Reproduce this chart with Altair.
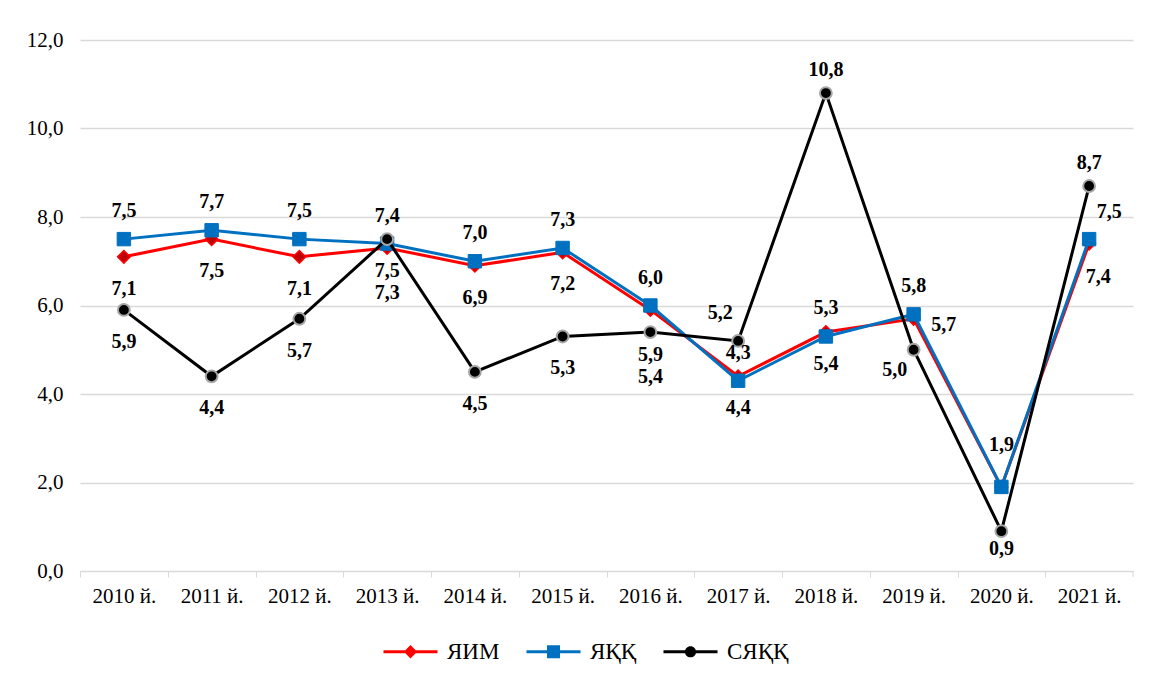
import altair as alt
import pandas as pd

FONT = "'Liberation Serif', 'Times New Roman', Times, serif"

years = ["2010 й.", "2011 й.", "2012 й.", "2013 й.", "2014 й.", "2015 й.",
         "2016 й.", "2017 й.", "2018 й.", "2019 й.", "2020 й.", "2021 й."]
series_names = ["ЯИМ", "ЯҚҚ", "СЯҚҚ"]

yim = [7.1, 7.5, 7.1, 7.3, 6.9, 7.2, 5.9, 4.4, 5.4, 5.7, 1.9, 7.4]
yqq = [7.5, 7.7, 7.5, 7.4, 7.0, 7.3, 6.0, 4.3, 5.3, 5.8, 1.9, 7.5]
syqq = [5.9, 4.4, 5.7, 7.5, 4.5, 5.3, 5.4, 5.2, 10.8, 5.0, 0.9, 8.7]

# label placement category for each point
yim_pos = ["below", "below", "below", "below2", "below", "below", "below2",
           "below", "below", "right", "none", "belowright"]
yqq_pos = ["above", "above", "above", "above", "above", "above", "above",
           "above", "above", "above", "above2", "aboveright"]
syqq_pos = ["below", "below", "below", "below", "below", "below", "below2",
            "aboveleft", "abovec", "leftbelow", "belowclose", "abovec"]

offsets = {
    "above": (0, -28), "abovec": (0, -23), "below": (0, 32), "below2": (0, 45),
    "above2": (0, -42), "right": (30, 6), "leftbelow": (-19, 20),
    "aboveleft": (-18, -28), "aboveright": (20, -27), "belowright": (9, 33),
    "belowclose": (0, 18),
}

rows = []
for name, vals, poss in zip(series_names, [yim, yqq, syqq], [yim_pos, yqq_pos, syqq_pos]):
    for yr, v, p in zip(years, vals, poss):
        rows.append({"year": yr, "series": name, "value": v,
                     "label": f"{v:.1f}".replace(".", ","), "pos": p})
df = pd.DataFrame(rows)

W, H = 1053, 531
step = W / len(years)

x_enc = alt.X(
    "year:N", sort=years,
    scale=alt.Scale(type="point", padding=0.5),
    axis=alt.Axis(title=None, labelAngle=0, labelFont=FONT, labelFontSize=21,
                  labelColor="#000000", domainColor="#D9D9D9", tickColor="#D9D9D9",
                  tickSize=6, tickOffset=-step / 2, labelOffset=step / 2,
                  labelPadding=8, grid=False),
)
y_enc = alt.Y(
    "value:Q",
    scale=alt.Scale(domain=[0, 12], nice=False),
    axis=alt.Axis(title=None, values=[0, 2, 4, 6, 8, 10, 12],
                  labelExpr="replace(format(datum.value, '.1f'), '.', ',')",
                  labelFont=FONT, labelFontSize=21, labelColor="#000000",
                  grid=True, gridColor="#D9D9D9", gridWidth=1.3,
                  domain=False, ticks=False, labelPadding=17),
)

styles = {
    "ЯИМ": dict(line="#FF0000", shape="diamond", fill="#C00000", stroke="#FF0000", size=160, sw=1.5),
    "ЯҚҚ": dict(line="#0070C0", shape="square", fill="#0070C0", stroke="#0070C0", size=180, sw=1),
    "СЯҚҚ": dict(line="#000000", shape="circle", fill="#000000", stroke="#A6A6A6", size=140, sw=2),
}

base = alt.Chart(df)
layers = []
for name in series_names:
    st = styles[name]
    sub = base.transform_filter(alt.datum.series == name)
    layers.append(sub.mark_line(color=st["line"], strokeWidth=3).encode(x=x_enc, y=y_enc))
    layers.append(sub.mark_point(shape=st["shape"], filled=True, fill=st["fill"],
                                 stroke=st["stroke"], strokeWidth=st["sw"], size=st["size"],
                                 opacity=1).encode(x=x_enc, y=y_enc))

for pos, (dx, dy) in offsets.items():
    layers.append(
        base.transform_filter(alt.datum.pos == pos)
        .mark_text(font=FONT, fontSize=20, fontWeight="bold", color="#000000",
                   dx=dx, dy=dy, align="center", baseline="middle")
        .encode(x=x_enc, y=y_enc, text="label:N")
    )

# right-end category tick
layers.append(
    alt.Chart(pd.DataFrame({"a": [0]})).mark_rule(color="#D9D9D9", strokeWidth=1)
    .encode(x=alt.value(W), y=alt.value(H), y2=alt.value(H + 6))
)

# legend (line-through-marker symbols)
legend_paths = [
    "M-3.86,-0.22H3.86V0.22H-3.86Z M0,-0.95L0.95,0L0,0.95L-0.95,0Z",
    "M-3.86,-0.22H3.86V0.22H-3.86Z M-0.93,-0.93H0.93V0.93H-0.93Z",
    "M-3.86,-0.22H3.86V0.22H-3.86Z M0.8,0A0.8,0.8 0 1,1 -0.8,0A0.8,0.8 0 1,1 0.8,0Z",
]
legend_colors = ["#FF0000", "#0070C0", "#000000"]
leg = alt.Legend(title=None, orient="none", legendX=319, legendY=600,
                 direction="horizontal", labelFont=FONT, labelFontSize=23,
                 labelColor="#000000", symbolSize=196, symbolStrokeWidth=0,
                 labelOffset=25, columnPadding=26, padding=0)
layers.append(
    base.transform_filter("false").mark_point(filled=True, opacity=1).encode(
        x=x_enc, y=y_enc,
        color=alt.Color("series:N", scale=alt.Scale(domain=series_names, range=legend_colors), legend=leg),
        shape=alt.Shape("series:N", scale=alt.Scale(domain=series_names, range=legend_paths), legend=leg),
    )
)

chart = (
    alt.layer(*layers)
    .properties(width=W, height=H,
                padding={"left": 72, "top": 32, "right": 8, "bottom": 95},
                autosize=alt.AutoSizeParams(type="none"))
    .configure_view(stroke=None)
)

chart.save("out.html", embed_options={"renderer": "svg", "actions": False})
